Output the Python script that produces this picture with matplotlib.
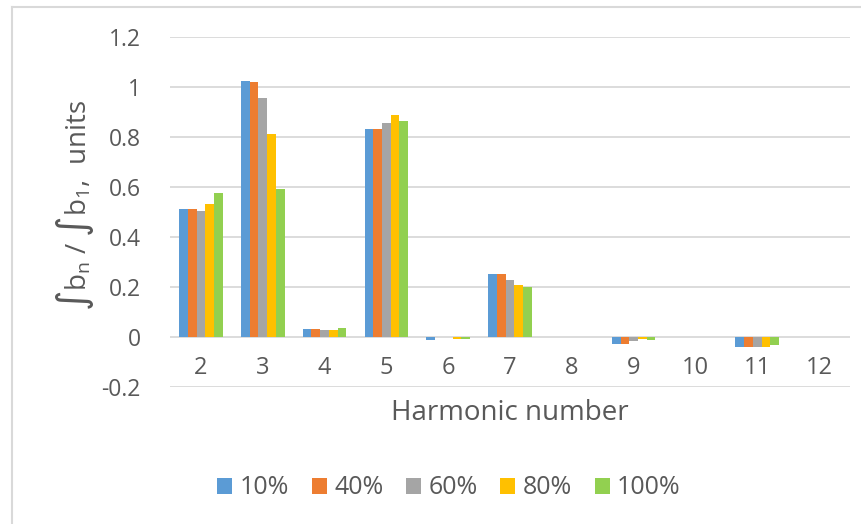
import numpy as np
import matplotlib
matplotlib.use("Agg")
import matplotlib.pyplot as plt
from matplotlib.lines import Line2D

plt.rcParams['font.family'] = ['Open Sans', 'DejaVu Sans']

harmonics = [2, 3, 4, 5, 6, 7, 8, 9, 10, 11, 12]
series_names = ["10%", "40%", "60%", "80%", "100%"]
colors = ["#5B9BD5", "#ED7D31", "#A5A5A5", "#FFC000", "#92D050"]

load_10 = [0.512, 1.024, 0.032, 0.831, -0.010, 0.251, 0.0, -0.027, 0.0, -0.041, 0.0]
load_40 = [0.512, 1.020, 0.032, 0.831, 0.000, 0.251, 0.0, -0.027, 0.0, -0.041, 0.0]
load_60 = [0.503, 0.955, 0.027, 0.855, 0.000, 0.228, 0.0, -0.016, 0.0, -0.041, 0.0]
load_80 = [0.531, 0.812, 0.027, 0.887, -0.006, 0.207, 0.0, -0.009, 0.0, -0.041, 0.0]
load_100 = [0.576, 0.591, 0.036, 0.864, -0.006, 0.200, 0.0, -0.013, 0.0, -0.032, 0.0]
series = [load_10, load_40, load_60, load_80, load_100]

txt = "#595959"
grid = "#D9D9D9"

fig = plt.figure(figsize=(8.61, 5.24), dpi=100)
ax = fig.add_axes([170 / 861, 1 - 387 / 524, 680 / 861, 350 / 524])

x = np.arange(len(harmonics))
w = 0.141
for i, (vals, name, c) in enumerate(zip(series, series_names, colors)):
    ax.bar(x + (i - 2) * w, vals, width=w, color=c, label=name, zorder=3)

ax.set_xlim(-0.5, len(harmonics) - 0.5)
ax.set_ylim(-0.2, 1.2)
ax.set_yticks(np.arange(-0.2, 1.21, 0.2))
ax.set_yticklabels(["-0.2", "0", "0.2", "0.4", "0.6", "0.8", "1", "1.2"])
ax.yaxis.grid(True, color=grid, linewidth=1.3, zorder=0)
ax.tick_params(axis='y', length=0, pad=21, labelsize=16.5, labelcolor=txt)
for s in ax.spines.values():
    s.set_visible(False)

# category labels sit just under the zero line
ax.set_xticks(x)
ax.set_xticklabels([])
ax.tick_params(axis='x', length=0)
for xi, h in zip(x, harmonics):
    ax.text(xi, -0.125, str(h), ha='center', va='center', fontsize=17, color=txt)

ax.text(0.5, -0.074, "Harmonic number", transform=ax.transAxes, ha='center',
        va='center', fontsize=20, color=txt)

fig.text(75 / 861, 1 - 205 / 524,
         "∫b$_\\mathregular{n}$ / ∫b$_\\mathregular{1}$,  units",
         rotation=90, ha='center', va='center', fontsize=20, color=txt)

ax.legend(loc='center', bbox_to_anchor=(449 / 861, 1 - 488 / 524),
          bbox_transform=fig.transFigure, ncol=5, frameon=False,
          fontsize=18, labelcolor=txt, handlelength=0.6, handleheight=0.6,
          handletextpad=0.3, columnspacing=0.9)

# chart area border
fig.add_artist(Line2D([12 / 861, 12 / 861], [0, 1 - 7 / 524], color=grid, lw=1.5))
fig.add_artist(Line2D([12 / 861, 1], [1 - 7 / 524, 1 - 7 / 524], color=grid, lw=1.5))

fig.savefig("out.png", dpi=100)
